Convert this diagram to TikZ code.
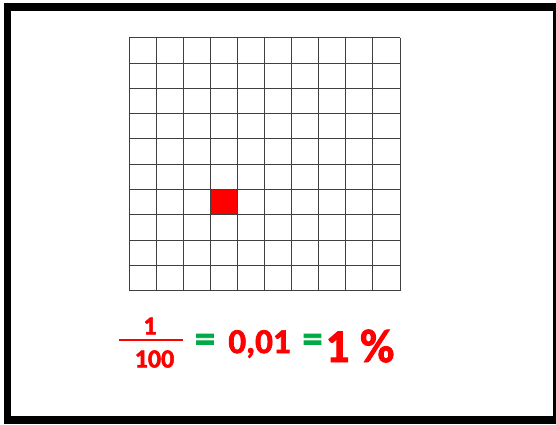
\documentclass[tikz,border=0pt]{standalone}
\usepackage{fontspec}
\setmainfont{Carlito}[BoldFeatures={FakeBold=2}]
\definecolor{pred}{RGB}{255,0,0}
\definecolor{pgreen}{RGB}{0,170,70}
\tikzset{
  gridline/.style={draw=black!75, line width=0.9pt},
  redtxt/.style={text=pred, inner sep=0pt},
  greentxt/.style={text=pgreen, inner sep=0pt}
}
\begin{document}
\begin{tikzpicture}[x=1pt,y=-1pt]
\useasboundingbox (0,0) rectangle (556,424);
\fill[white] (0,0) rectangle (556,424);
\fill[black] (4,3) rectangle (556,424);
\fill[white] (11,11) rectangle (553,416);
% red square
\fill[pred] (210.3,189.5) rectangle (237.4,214.8);
% grid
\foreach \i in {0,...,10}{
  \draw[gridline] ({129+27.1*\i},37.7) -- ({129+27.1*\i},290.7);
  \draw[gridline] (129,{37.7+25.3*\i}) -- (400,{37.7+25.3*\i});
}
% formula
\node[redtxt, font=\fontsize{26}{26}\selectfont\bfseries] (num) at (150,326) {1};
\node[redtxt, font=\fontsize{26}{26}\selectfont\bfseries] (den) at (154.5,359) {100};
\draw[draw=pred, line width=2.6pt] (119.3,340) -- (183.3,340);
\node[greentxt, font=\fontsize{40}{40}\selectfont\bfseries] (eq1) at (205,343) {=};
\node[redtxt, font=\fontsize{35}{35}\selectfont\bfseries] (dec) at (259.5,344) {0,01};
\node[greentxt, font=\fontsize{40}{40}\selectfont\bfseries] (eq2) at (312.5,343) {=};
\node[redtxt, font=\fontsize{47}{47}\selectfont\bfseries] (pct) at (360,346) {1 \%};
\end{tikzpicture}
\end{document}
